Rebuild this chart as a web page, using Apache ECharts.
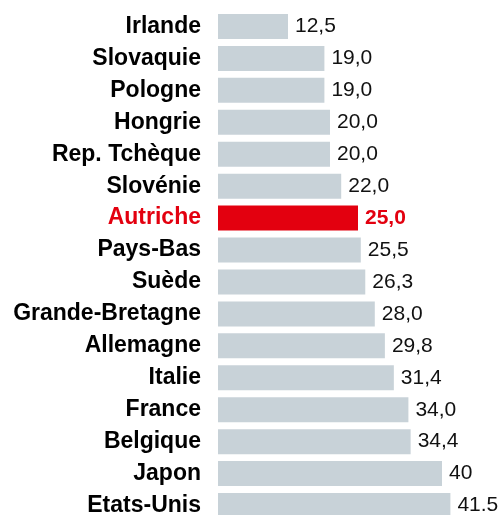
<!DOCTYPE html>
<html>
<head>
<meta charset="utf-8">
<script src="https://cdn.jsdelivr.net/npm/echarts@6/dist/echarts.min.js"></script>
<style>
  html, body { margin: 0; padding: 0; background: #fff; }
  #chart { width: 501px; height: 515px; }
</style>
</head>
<body>
<div id="chart"></div>
<script>
  // données
  var pays = ['Irlande', 'Slovaquie', 'Pologne', 'Hongrie', 'Rep. Tchèque', 'Slovénie', 'Autriche',
    'Pays-Bas', 'Suède', 'Grande-Bretagne', 'Allemagne', 'Italie', 'France', 'Belgique', 'Japon', 'Etats-Unis'];
  var taux = [12.5, 19.0, 19.0, 20.0, 20.0, 22.0, 25.0, 25.5, 26.3, 28.0, 29.8, 31.4, 34.0, 34.4, 40, 41.5];
  var etiquettes = ['12,5', '19,0', '19,0', '20,0', '20,0', '22,0', '25,0', '25,5', '26,3', '28,0',
    '29,8', '31,4', '34,0', '34,4', '40', '41.5'];
  var enRouge = 'Autriche';

  var rouge = '#e3000f';
  var gris = '#c8d2d8';

  var myChart = echarts.init(document.getElementById('chart'));

  var barres = taux.map(function (v, i) {
    var rougeOk = pays[i] === enRouge;
    return {
      value: v,
      itemStyle: { color: rougeOk ? rouge : gris },
      label: rougeOk ? { color: rouge, fontWeight: 'bold' } : {}
    };
  });

  myChart.setOption({
    animation: false,
    grid: {
      left: 218,
      top: 10.5,
      width: 280,
      height: 511,
      outerBoundsMode: 'none'
    },
    xAxis: {
      type: 'value',
      min: 0,
      max: 50,
      show: false
    },
    yAxis: {
      type: 'category',
      inverse: true,
      data: pays,
      axisLine: { show: false },
      axisTick: { show: false },
      axisLabel: {
        margin: 17,
        fontFamily: 'Liberation Sans, Arial, sans-serif',
        fontSize: 23,
        fontWeight: 'bold',
        color: '#000',
        formatter: function (v) {
          return v === enRouge ? '{r|' + v + '}' : v;
        },
        rich: {
          r: {
            fontFamily: 'Liberation Sans, Arial, sans-serif',
            fontSize: 23,
            fontWeight: 'bold',
            color: rouge
          }
        }
      }
    },
    series: [{
      type: 'bar',
      data: barres,
      barWidth: 25,
      label: {
        show: true,
        position: 'right',
        distance: 7,
        fontFamily: 'Liberation Sans, Arial, sans-serif',
        fontSize: 21,
        color: '#111',
        formatter: function (p) {
          return etiquettes[p.dataIndex];
        }
      }
    }]
  });
</script>
</body>
</html>
